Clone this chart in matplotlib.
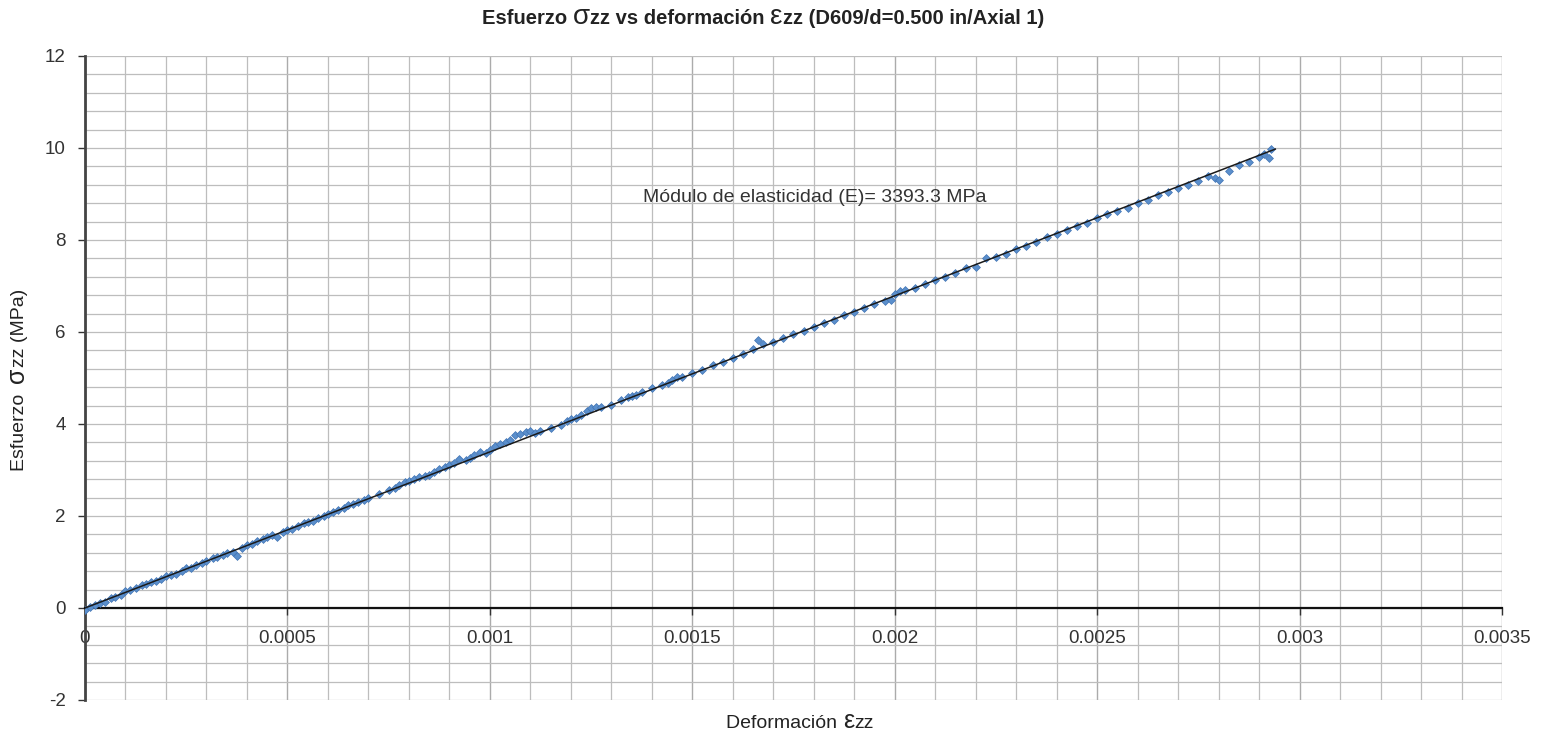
import numpy as np
import matplotlib
matplotlib.use("Agg")
import matplotlib.pyplot as plt
from matplotlib.ticker import MultipleLocator, FixedLocator

plt.rcParams['font.family'] = ['Liberation Sans', 'DejaVu Sans']
plt.rcParams['axes.unicode_minus'] = False

# Measured strain (in microstrain) and axial stress (MPa)
strain_ue = [0, 12, 25, 38, 50, 63, 75, 90, 100, 112,
             125, 140, 150, 163, 175, 188, 200, 212, 225, 240,
             250, 262, 275, 290, 300, 315, 325, 340, 350, 365,
             375, 388, 400, 412, 425, 440, 450, 462, 475, 490,
             500, 512, 525, 540, 550, 562, 575, 590, 600, 612,
             625, 640, 650, 662, 675, 690, 700, 725, 750, 765,
             775, 790, 800, 812, 825, 840, 850, 862, 875, 890,
             900, 912, 925, 940, 950, 962, 975, 990, 1000, 1012,
             1025, 1040, 1050, 1062, 1075, 1090, 1100, 1112, 1125, 1150,
             1175, 1190, 1200, 1212, 1225, 1240, 1250, 1262, 1275, 1300,
             1325, 1340, 1350, 1362, 1375, 1400, 1425, 1440, 1450, 1462,
             1475, 1500, 1525, 1550, 1575, 1600, 1625, 1650, 1662, 1675,
             1700, 1725, 1750, 1775, 1800, 1825, 1850, 1875, 1900, 1925,
             1950, 1975, 1990, 2000, 2012, 2025, 2050, 2075, 2100, 2125,
             2150, 2175, 2200, 2225, 2250, 2275, 2300, 2325, 2350, 2375,
             2400, 2425, 2450, 2475, 2500, 2525, 2550, 2575, 2600, 2625,
             2650, 2675, 2700, 2725, 2750, 2775, 2790, 2800, 2825, 2850,
             2875, 2900, 2912, 2925, 2930]
stress_mpa = [-0.04, 0.02, 0.06, 0.10, 0.14, 0.22, 0.24, 0.28, 0.38, 0.40,
              0.44, 0.50, 0.53, 0.56, 0.58, 0.64, 0.70, 0.72, 0.75, 0.80,
              0.86, 0.88, 0.94, 0.97, 1.02, 1.08, 1.10, 1.16, 1.20, 1.22,
              1.14, 1.30, 1.36, 1.40, 1.46, 1.50, 1.54, 1.58, 1.54, 1.66,
              1.70, 1.72, 1.78, 1.84, 1.88, 1.90, 1.96, 2.00, 2.05, 2.08,
              2.12, 2.18, 2.24, 2.26, 2.30, 2.34, 2.40, 2.48, 2.56, 2.60,
              2.68, 2.74, 2.76, 2.80, 2.84, 2.88, 2.90, 2.96, 3.02, 3.06,
              3.10, 3.16, 3.24, 3.22, 3.26, 3.32, 3.40, 3.38, 3.44, 3.52,
              3.56, 3.60, 3.66, 3.76, 3.78, 3.82, 3.84, 3.80, 3.84, 3.92,
              3.98, 4.06, 4.10, 4.14, 4.20, 4.28, 4.34, 4.38, 4.36, 4.42,
              4.52, 4.58, 4.60, 4.64, 4.70, 4.78, 4.84, 4.90, 4.96, 5.02,
              5.02, 5.10, 5.18, 5.28, 5.34, 5.44, 5.52, 5.62, 5.82, 5.74,
              5.78, 5.86, 5.95, 6.02, 6.10, 6.20, 6.26, 6.36, 6.44, 6.52,
              6.60, 6.68, 6.70, 6.82, 6.90, 6.92, 6.96, 7.04, 7.14, 7.20,
              7.28, 7.40, 7.42, 7.60, 7.62, 7.70, 7.80, 7.88, 7.96, 8.06,
              8.14, 8.22, 8.30, 8.38, 8.48, 8.56, 8.64, 8.70, 8.80, 8.88,
              8.98, 9.04, 9.14, 9.20, 9.28, 9.40, 9.34, 9.30, 9.50, 9.62,
              9.70, 9.80, 9.86, 9.78, 9.98]

# Linear fit reported as the elastic modulus (MPa)
modulus = 3393.3
fit_range = [0.0, 0.00294]

x_ticks = [0, 0.0005, 0.001, 0.0015, 0.002, 0.0025, 0.003, 0.0035]
x_tick_labels = ["0", "0.0005", "0.001", "0.0015", "0.002", "0.0025", "0.003", "0.0035"]
y_ticks = [-2, 0, 2, 4, 6, 8, 10, 12]

strain = np.array(strain_ue) * 1e-6
stress = np.array(stress_mpa)

W, H = 1546, 734
fig = plt.figure(figsize=(W / 100, H / 100), dpi=100)
ax = fig.add_axes([85 / W, 1 - 700 / H, (1502 - 85) / W, (700 - 56) / H])

ax.set_xlim(0, 0.0035)
ax.set_ylim(-2, 12)

# grid
ax.xaxis.set_major_locator(FixedLocator(x_ticks))
ax.xaxis.set_minor_locator(MultipleLocator(0.0001))
ax.yaxis.set_major_locator(FixedLocator(y_ticks))
ax.yaxis.set_minor_locator(FixedLocator(np.arange(-2, 12.01, 0.4)))
ax.grid(which='minor', axis='both', color='#bdbdbd', linewidth=0.9)
ax.grid(which='major', axis='x', color='#ababab', linewidth=1.0)
ax.grid(which='major', axis='y', color='#bdbdbd', linewidth=0.9)
ax.set_axisbelow(True)

ax.scatter(strain, stress, marker='D', s=16, color='#5b8fcc', edgecolors='#4073b3',
           linewidths=0.5, zorder=3)
fit_x = np.array(fit_range)
ax.plot(fit_x, modulus * fit_x, color='#1a1a1a', linewidth=1.1, zorder=4)

# axes styling
for side in ('top', 'right'):
    ax.spines[side].set_visible(False)
ax.spines['bottom'].set_position(('data', 0))
ax.spines['bottom'].set_color('#111111')
ax.spines['bottom'].set_linewidth(1.6)
ax.spines['left'].set_color('#444444')
ax.spines['left'].set_linewidth(2.0)
ax.spines['bottom'].set_zorder(2.5)

ax.set_xticks(x_ticks)
ax.set_xticklabels(x_tick_labels)
ax.tick_params(axis='x', which='major', direction='out', length=5, width=1,
               color='#333333', pad=11, labelsize=13.5, labelcolor='#333333')
ax.tick_params(axis='y', which='major', direction='out', length=5, width=1,
               color='#333333', pad=9, labelsize=13.5, labelcolor='#333333')
ax.tick_params(which='minor', length=0)

ax.text(0.001378, 8.93, "Módulo de elasticidad (E)= 3393.3 MPa",
        fontsize=14, color='#333333', ha='left', va='center')


def mixed_text(pieces, cx, cy, rotation=0):
    """Lay out text pieces of different sizes side by side, centred at (cx, cy) px."""
    renderer = fig.canvas.get_renderer()
    arts = []
    for s, size, weight in pieces:
        t = fig.text(0, 0, s, fontsize=size, fontweight=weight, color='#222222',
                     ha='left', va='baseline', rotation=rotation,
                     rotation_mode='anchor')
        arts.append(t)
    widths = []
    for t in arts:
        t.set_rotation(0)
        widths.append(t.get_window_extent(renderer).width)
        t.set_rotation(rotation)
    total = sum(widths)
    pos = -total / 2
    for t, w in zip(arts, widths):
        if rotation == 90:
            t.set_position(((cx + 6) / W, (H - cy + pos) / H))
        else:
            t.set_position(((cx + pos) / W, (H - cy - 6) / H))
        pos += w


mixed_text([("Esfuerzo ", 14.5, 'bold'), ("σ", 20, 'normal'),
            ("zz vs deformación ", 14.5, 'bold'), ("ε", 20, 'normal'),
            ("zz (D609/d=0.500 in/Axial 1)", 14.5, 'bold')], 763, 18)
mixed_text([("Deformación ", 14, 'normal'), ("ε", 18, 'normal'),
            ("zz", 14, 'normal')], 800, 722)
mixed_text([("Esfuerzo  ", 14, 'normal'), ("σ", 18, 'normal'),
            ("zz (MPa)", 14, 'normal')], 18, 380, rotation=90)

fig.savefig("out.png", dpi=100, facecolor='white')
